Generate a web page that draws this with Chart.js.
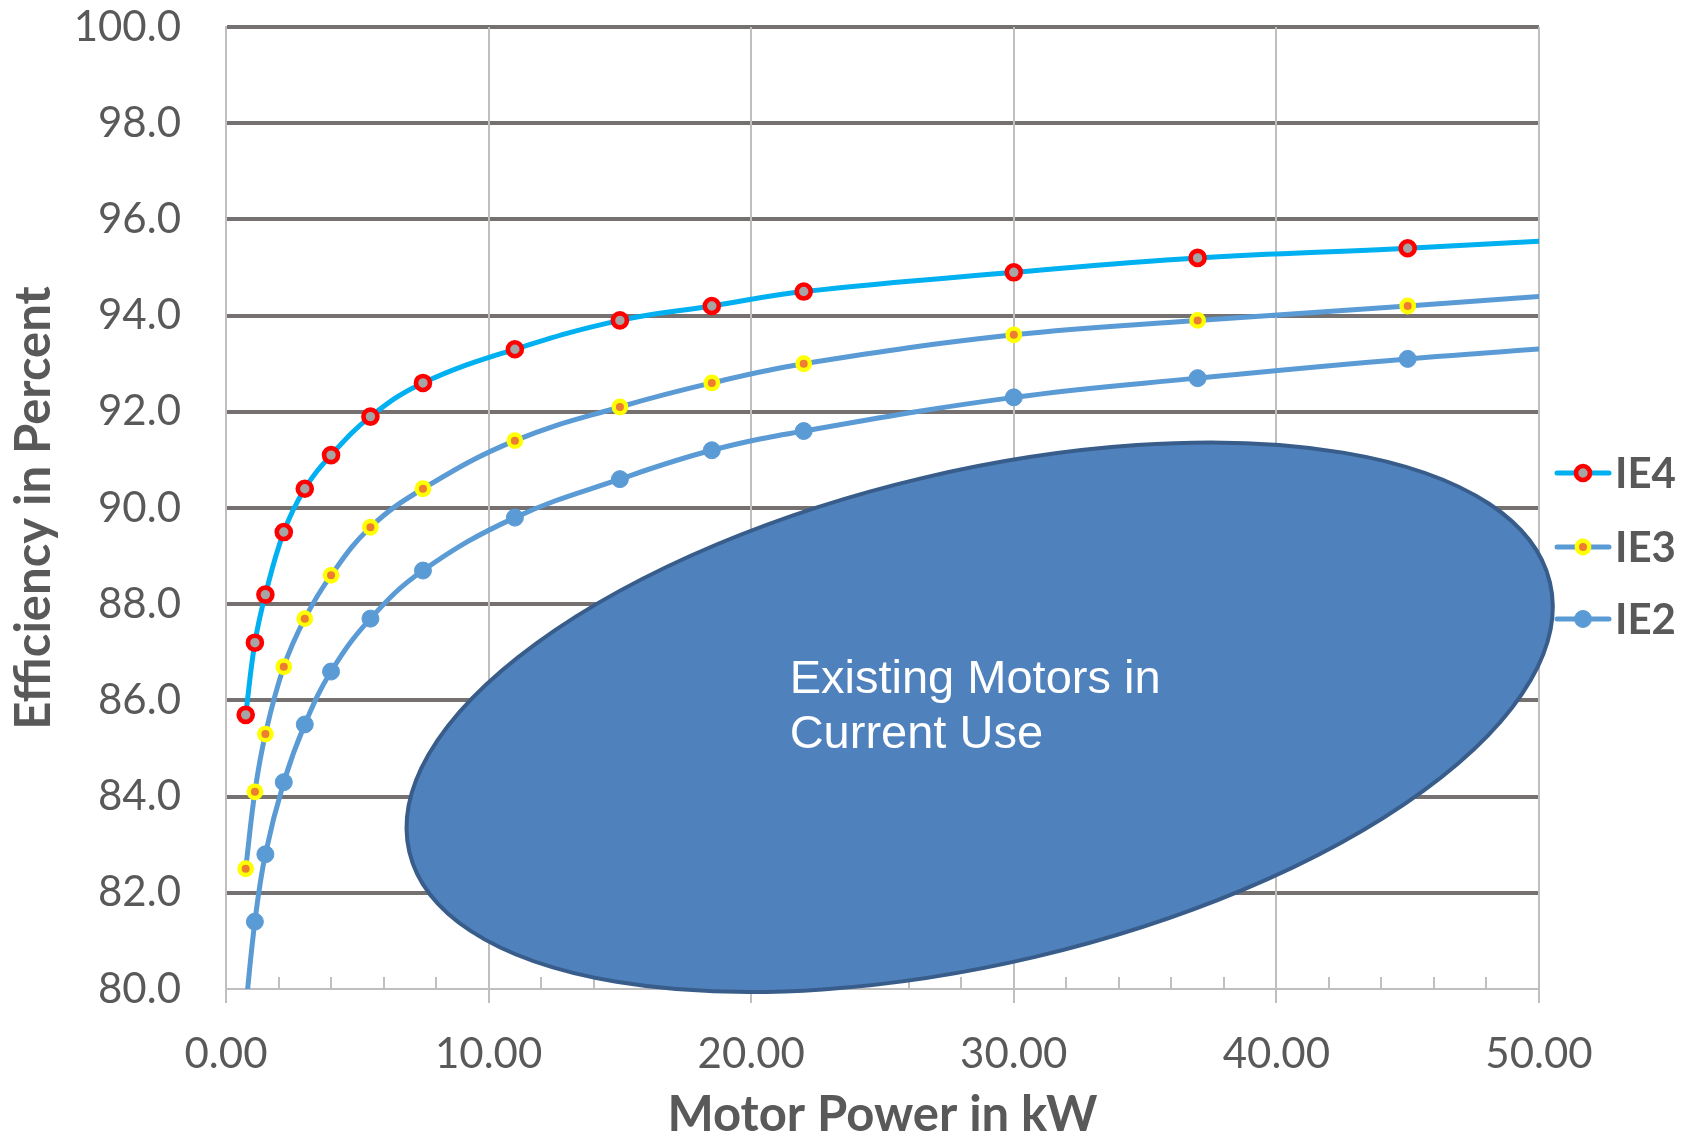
<!DOCTYPE html>
<html>
<head>
<meta charset="utf-8">
<title>Motor efficiency classes</title>
<script src="https://cdn.jsdelivr.net/npm/chart.js@4.4.1/dist/chart.umd.min.js"></script>
<style>
  html, body { margin: 0; padding: 0; background: #ffffff; }
  #wrap { width: 1691px; height: 1140px; }
</style>
</head>
<body>
<div id="wrap"><canvas id="effChart" width="1691" height="1140"></canvas></div>
<script>
// rated motor power (kW) and minimum efficiency (%) per class, 4-pole 50 Hz
const powerKw = [0.75, 1.1, 1.5, 2.2, 3, 4, 5.5, 7.5, 11, 15, 18.5, 22, 30, 37, 45, 55];
const ie4 = [85.7, 87.2, 88.2, 89.5, 90.4, 91.1, 91.9, 92.6, 93.3, 93.9, 94.2, 94.5, 94.9, 95.2, 95.4, 95.7];
const ie3 = [82.5, 84.1, 85.3, 86.7, 87.7, 88.6, 89.6, 90.4, 91.4, 92.1, 92.6, 93.0, 93.6, 93.9, 94.2, 94.6];
const ie2 = [79.6, 81.4, 82.8, 84.3, 85.5, 86.6, 87.7, 88.7, 89.8, 90.6, 91.2, 91.6, 92.3, 92.7, 93.1, 93.5];
const seriesNames = ["IE4", "IE3", "IE2"];
const noteLines = ["Existing Motors in", "Current Use"];

// axis ranges
const xMin = 0, xMax = 50, xMajor = 10, xMinor = 2;
const yMin = 80, yMax = 100, yStep = 2;

const TEXT = "#595959";
Chart.defaults.font.family = "Lato, 'DejaVu Sans', sans-serif";
Chart.defaults.color = TEXT;

const toPoints = (vals) => powerKw.map((p, i) => ({ x: p, y: vals[i] }));

// the shaded "existing motors" region, centred in data units
const blob = { kw: 28.7, pct: 85.65, rx: 586, ry: 246, tilt: -13.3 };

const overlay = {
  id: "overlay",
  beforeDatasetsDraw(chart) {
    const { ctx, chartArea, scales: { x, y } } = chart;
    ctx.save();

    // short inside tick marks along the power axis
    ctx.strokeStyle = "#bfbfbf";
    ctx.lineWidth = 2;
    for (let v = xMin; v <= xMax; v += xMinor) {
      const px = Math.round(x.getPixelForValue(v));
      ctx.beginPath();
      ctx.moveTo(px, chartArea.bottom);
      ctx.lineTo(px, chartArea.bottom - 12);
      ctx.stroke();
    }

    const cx = x.getPixelForValue(blob.kw);
    const cy = y.getPixelForValue(blob.pct);
    ctx.beginPath();
    ctx.ellipse(cx, cy, blob.rx, blob.ry, blob.tilt * Math.PI / 180, 0, Math.PI * 2);
    ctx.fillStyle = "#4f81bd";
    ctx.fill();
    ctx.lineWidth = 4;
    ctx.strokeStyle = "#385d8a";
    ctx.stroke();

    ctx.fillStyle = "#ffffff";
    ctx.font = "47px 'Liberation Sans', Arial, sans-serif";
    ctx.textAlign = "left";
    ctx.textBaseline = "alphabetic";
    ctx.fillText(noteLines[0], cx - 190, cy - 24);
    ctx.fillText(noteLines[1], cx - 190, cy + 31);
    ctx.restore();
  },
  afterDraw(chart) {
    // legend on the right: line + marker + bold name
    const { ctx } = chart;
    const rows = [473, 547, 619];
    ctx.save();
    chart.data.datasets.forEach((ds, i) => {
      const yy = rows[i];
      ctx.strokeStyle = ds.borderColor;
      ctx.lineWidth = ds.borderWidth;
      ctx.lineCap = "round";
      ctx.beginPath();
      ctx.moveTo(1557, yy);
      ctx.lineTo(1609, yy);
      ctx.stroke();

      ctx.beginPath();
      ctx.arc(1583, yy, ds.pointRadius, 0, Math.PI * 2);
      ctx.fillStyle = ds.pointBackgroundColor;
      ctx.fill();
      ctx.lineWidth = ds.pointBorderWidth;
      ctx.strokeStyle = ds.pointBorderColor;
      ctx.stroke();

      ctx.fillStyle = TEXT;
      ctx.font = "bold 42px Lato, sans-serif";
      ctx.textAlign = "left";
      ctx.textBaseline = "alphabetic";
      ctx.fillText(ds.label, 1615, yy + 15);
    });
    ctx.restore();
  }
};

new Chart(document.getElementById("effChart"), {
  type: "line",
  data: {
    datasets: [
      {
        label: seriesNames[0],
        data: toPoints(ie4),
        borderColor: "#00b0f0",
        borderWidth: 5,
        pointRadius: 7,
        pointBorderWidth: 4.6,
        pointBorderColor: "#ff0000",
        pointBackgroundColor: "#a5a5a5"
      },
      {
        label: seriesNames[1],
        data: toPoints(ie3),
        borderColor: "#5b9bd5",
        borderWidth: 5,
        pointRadius: 6.2,
        pointBorderWidth: 4.4,
        pointBorderColor: "#ffff00",
        pointBackgroundColor: "#ed7d31"
      },
      {
        label: seriesNames[2],
        data: toPoints(ie2),
        borderColor: "#5b9bd5",
        borderWidth: 5,
        pointRadius: 8.5,
        pointBorderWidth: 1,
        pointBorderColor: "#5b9bd5",
        pointBackgroundColor: "#5b9bd5"
      }
    ]
  },
  options: {
    responsive: false,
    animation: false,
    events: [],
    layout: { padding: { top: 27, right: 152, left: 0, bottom: 0 } },
    plugins: {
      legend: { display: false },
      tooltip: { enabled: false }
    },
    elements: { line: { tension: 0.4 } },
    scales: {
      y: {
        min: yMin,
        max: yMax,
        afterFit: (s) => {
          // fixed gutter for labels + title; keep tick padding from eating the top margin
          s.width = 226;
          s.paddingTop = 0;
          s.paddingBottom = 0;
        },
        ticks: {
          stepSize: yStep,
          padding: 45,
          color: TEXT,
          font: { size: 42 },
          callback: (v) => Number(v).toFixed(1)
        },
        grid: {
          z: -1,
          drawTicks: false,
          lineWidth: 4,
          color: (c) => (c.tick && c.tick.value === yMin ? "rgba(0,0,0,0)" : "#767171")
        },
        border: { display: true, color: "#bfbfbf", width: 2 },
        title: {
          display: true,
          text: "Efficiency in Percent",
          color: TEXT,
          font: { size: 49, weight: "bold", lineHeight: 1.0 },
          padding: { top: 10, bottom: 0 }
        }
      },
      x: {
        type: "linear",
        min: xMin,
        max: xMax,
        afterFit: (s) => { s.height = 151; },
        ticks: {
          stepSize: xMajor,
          padding: 26,
          maxRotation: 0,
          autoSkip: false,
          color: TEXT,
          font: { size: 42 },
          callback: (v) => Number(v).toFixed(2)
        },
        grid: {
          color: "#bfbfbf",
          lineWidth: 2,
          tickLength: 14,
          tickColor: "#bfbfbf"
        },
        border: { display: true, color: "#bfbfbf", width: 2 },
        title: {
          display: true,
          text: "Motor Power in kW",
          color: TEXT,
          font: { size: 49, weight: "bold", lineHeight: 1.0 },
          padding: { top: 0, bottom: 0 }
        }
      }
    }
  },
  plugins: [overlay]
});
</script>
</body>
</html>
